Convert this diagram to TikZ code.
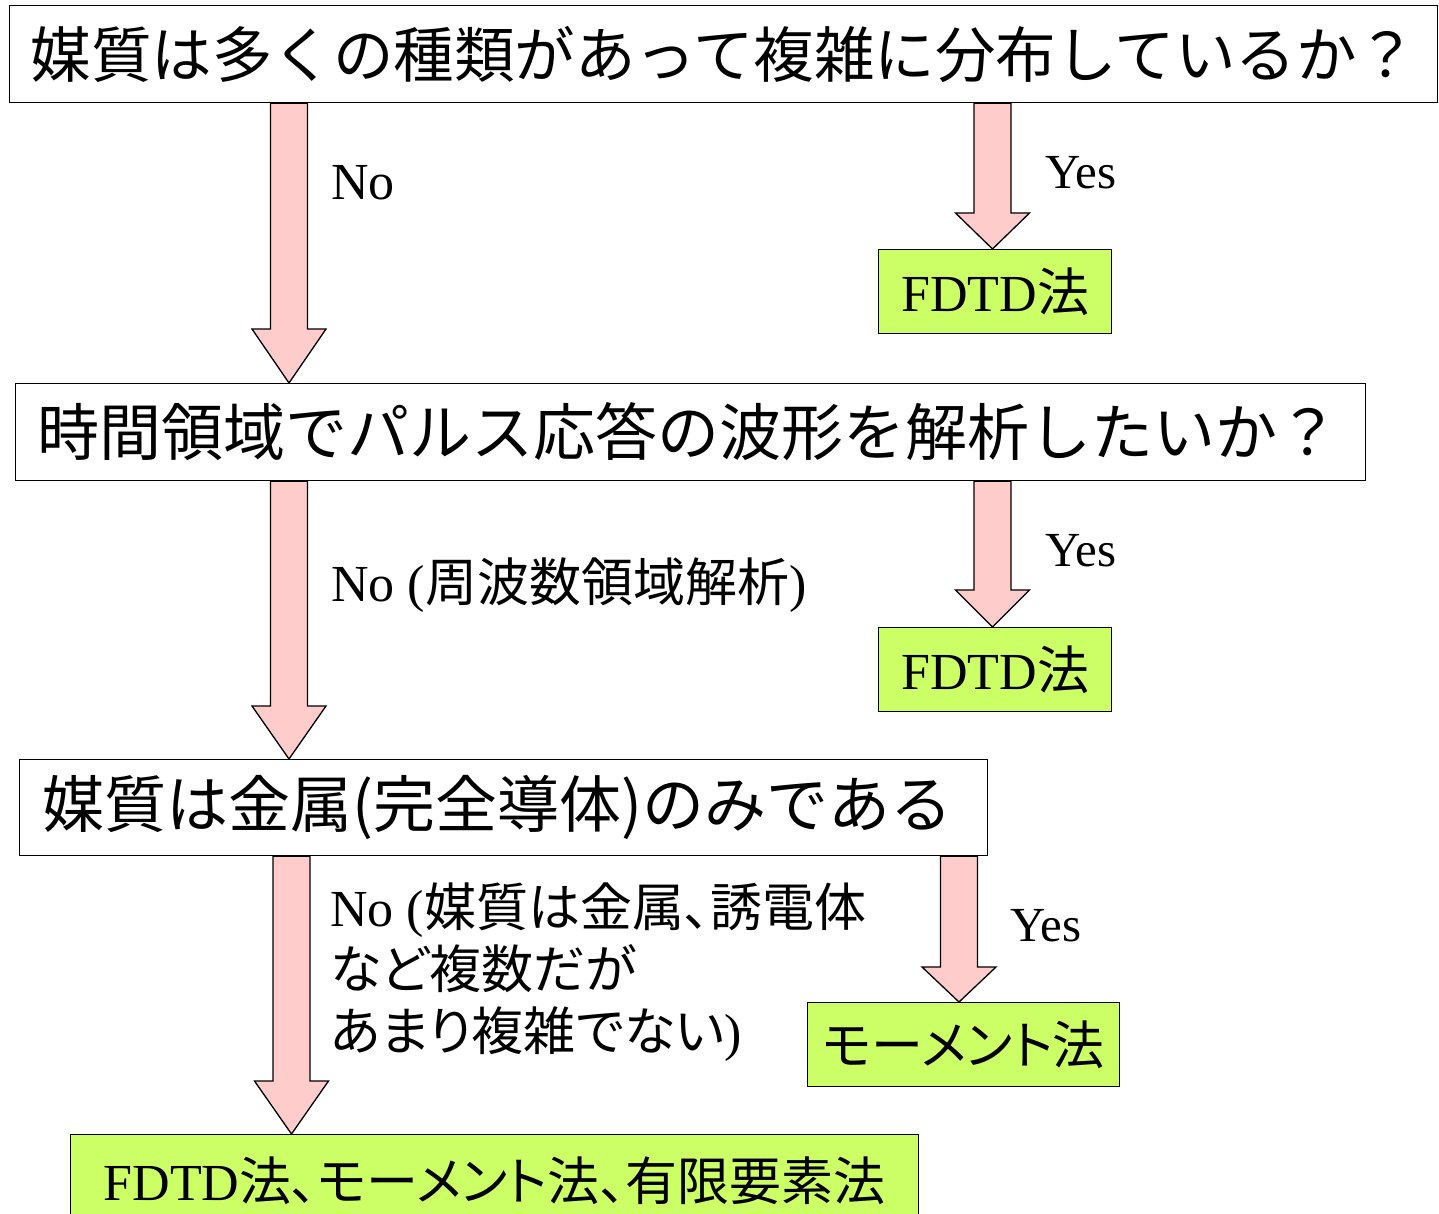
\documentclass[tikz,border=0pt]{standalone}
\usepackage{fontspec}
\setmainfont{Liberation Serif}
\newfontfamily\cjk{Noto Sans CJK JP}
\newfontfamily\cjkp[RawFeature=+palt]{Noto Sans CJK JP}
\usetikzlibrary{calc}
\definecolor{arrowpink}{RGB}{255,204,204}
\definecolor{boxgreen}{RGB}{204,255,102}
\tikzset{
  qbox/.style={draw=black, line width=1.3pt, fill=white, anchor=north west, inner ysep=0pt, align=left, minimum height=#1, font=\fontsize{62}{70}\selectfont\cjk},
  abox/.style={draw=black, line width=1.3pt, fill=boxgreen, anchor=north west, inner sep=0pt, align=center, font=\fontsize{52}{60}\selectfont},
  lbl/.style={anchor=west, inner sep=0pt, align=left, font=\fontsize{52}{62}\selectfont},
  ylbl/.style={anchor=west, inner sep=0pt, font=\fontsize{49}{58}\selectfont},
  barrowstyle/.style={draw=black, line width=1.3pt, fill=arrowpink, line join=miter}
}
\newcommand{\barrow}[4]{%
  \draw[barrowstyle] let \p1=(#2.south), \p2=(#3.north) in
    ({#1pt-18.5pt},{\y1}) -- ({#1pt+18.5pt},{\y1}) -- ({#1pt+18.5pt},{\y2+#4pt})
    -- ({#1pt+37pt},{\y2+#4pt}) -- ({#1pt},{\y2}) -- ({#1pt-37pt},{\y2+#4pt})
    -- ({#1pt-18.5pt},{\y2+#4pt}) -- cycle;}
\begin{document}
\begin{tikzpicture}[x=1pt,y=-1pt]
\useasboundingbox (0,0) rectangle (1439,1214);
% question boxes
\node[qbox=97pt, minimum width=1428pt, inner xsep=21pt, text width=1386pt, font=\fontsize{60.5}{70}\selectfont\cjk] (q1) at (9,5) {媒質は多くの種類があって複雑に分布しているか？};
\node[qbox=97pt, minimum width=1350pt, inner xsep=22pt, text width=1306pt] (q2) at (15,383) {時間領域でパルス応答の波形を解析したいか？};
\node[qbox=96pt, minimum width=968pt, inner xsep=23pt, text width=922pt] (q3) at (19,759) {媒質は金属(完全導体)のみである};
% answer boxes
\node[abox, minimum width=233pt, minimum height=84pt] (f1) at (878,249) {FDTD{\cjk 法}};
\node[abox, minimum width=233pt, minimum height=84pt] (f2) at (878,627) {FDTD{\cjk 法}};
\node[abox, minimum width=312pt, minimum height=84pt] (mm) at (807,1002) {\cjkp モーメント法};
\node[abox, minimum width=848pt, minimum height=92pt] (fin) at (70,1134) {FDTD{\cjkp 法、モーメント法、有限要素法}};
% arrows
\barrow{289}{q1}{q2}{54}
\barrow{992.5}{q1}{f1}{36}
\barrow{289}{q2}{q3}{53}
\barrow{992.5}{q2}{f2}{37}
\barrow{291.5}{q3}{fin}{53}
\barrow{959}{q3}{mm}{35}
% labels
\node[lbl] (n1) at (331,183) {No};
\node[ylbl] (y1) at (1045,173) {Yes};
\node[lbl] (n2) at (331,585) {No ({\cjkp 周波数領域解析})};
\node[ylbl] (y2) at (1045,551) {Yes};
\node[ylbl] (y3) at (1010,926) {Yes};
\node[lbl] (n3) at (330,972) {No ({\cjkp 媒質は金属、誘電体}\\{\cjkp など複数だが}\\{\cjkp あまり複雑でない})};
\end{tikzpicture}
\end{document}
